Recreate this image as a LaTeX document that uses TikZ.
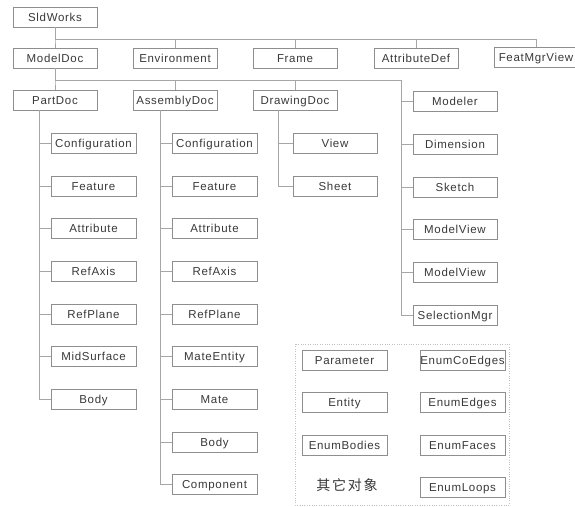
\documentclass[tikz,border=0pt]{standalone}
\usepackage{fontspec}
\setmainfont{Liberation Sans}[LetterSpace=6]
\newfontfamily\cjk{Noto Sans CJK SC}[LetterSpace=12]
\definecolor{boxgray}{HTML}{8E8E8E}
\definecolor{linegray}{HTML}{A6A6A6}
\definecolor{txtgray}{HTML}{383838}
\begin{document}
\begin{tikzpicture}[x=1pt,y=-1pt,font=\fontsize{11.5}{13}\selectfont,
	obj/.style={draw=boxgray,line width=0.8pt,minimum width=84pt,minimum height=20pt,inner sep=0pt,text height=8.3pt,text depth=0pt,text=txtgray},
	link/.style={draw=linegray,line width=0.8pt}]
		\useasboundingbox (0,0) rectangle (575,506);
		% top levels
		\node[obj] (sld) at (55,17) {SldWorks};
		\node[obj] (modeldoc) at (55,58) {ModelDoc};
		\node[obj] (env) at (175,58) {Environment};
		\node[obj] (frame) at (295,58) {Frame};
		\node[obj] (attrdef) at (416,58) {AttributeDef};
		\node[obj] (featmgr) at (536,57) {FeatMgrView};
		\node[obj] (partdoc) at (55,100) {PartDoc};
		\node[obj] (asmdoc) at (175,100) {AssemblyDoc};
		\node[obj] (drawdoc) at (295,100) {DrawingDoc};
		\coordinate (rbus) at (401,80);
		\foreach \n in {modeldoc,env,frame,attrdef,featmgr}\draw[link] (sld.south)--++(0,12) -| (\n.north);
		\foreach \n in {partdoc,asmdoc,drawdoc}\draw[link] (modeldoc.south)--++(0,12) -| (\n.north);
		\draw[link] (modeldoc.south) |- (rbus);
		% children
		\foreach \t [count=\i] in {Configuration,Feature,Attribute,RefAxis,RefPlane,MidSurface,Body}{
			\node[obj,minimum width=85pt] (pt\i) at (93.5,{100.5+42.7*\i}) {\t};
			\draw[link] ([xshift=-16pt]partdoc.south) |- (pt\i.west);}
		\foreach \t [count=\i] in {Configuration,Feature,Attribute,RefAxis,RefPlane,MateEntity,Mate,Body,Component}{
			\node[obj,minimum width=85pt] (as\i) at (214.5,{100.5+42.7*\i}) {\t};
			\draw[link] ([xshift=-15pt]asmdoc.south) |- (as\i.west);}
		\foreach \t [count=\i] in {View,Sheet}{
			\node[obj] (dr\i) at (335,{100.5+42.7*\i}) {\t};
			\draw[link] ([xshift=-17pt]drawdoc.south) |- (dr\i.west);}
		\foreach \t [count=\i] in {Modeler,Dimension,Sketch,ModelView,ModelView,SelectionMgr}{
			\node[obj] (md\i) at (455,{101.5+42.7*(\i-1)}) {\t};
			\draw[link] (rbus) |- (md\i.west);}
		% other objects
		\draw[dotted,linegray!70] (295,344) rectangle (509,505);
		\foreach \t [count=\i] in {Parameter,Entity,EnumBodies}\node[obj,minimum width=85pt] (oa\i) at (344.5,{318+42.3*\i}) {\t};
		\foreach \t [count=\i] in {EnumCoEdges,EnumEdges,EnumFaces,EnumLoops}\node[obj,minimum width=85pt] (ob\i) at (462.5,{318+42.3*\i}) {\t};
		\node[text=txtgray,font=\cjk\fontsize{14}{16}\selectfont] (other) at (347,485) {其它对象};
\end{tikzpicture}
\end{document}
